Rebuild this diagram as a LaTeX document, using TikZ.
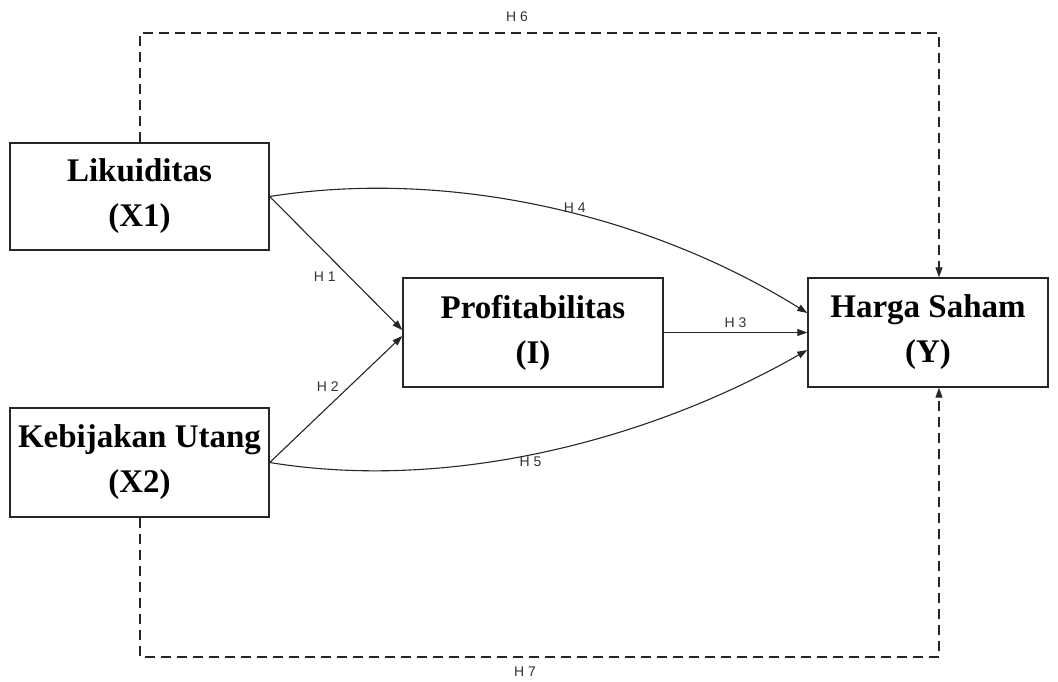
\documentclass[tikz,border=0pt]{standalone}
\usepackage{fontspec}
\setmainfont{Liberation Serif}
\newfontfamily\labfont{Liberation Sans}
\usetikzlibrary{arrows.meta}
\begin{document}
\begin{tikzpicture}[x=1pt,y=-1pt,
  box/.style={draw=black!85,line width=1.4pt,fill=white,inner sep=0pt,align=center,
    font=\fontsize{33}{45}\selectfont\bfseries},
  conn/.style={draw=black!85,line width=1.1pt,-{Triangle[length=10pt,width=7pt]}},
  dconn/.style={conn,dashed,dash pattern=on 10pt off 6pt},
  hlab/.style={font=\labfont\fontsize{14}{16}\selectfont,text=black!80,inner sep=1pt}]
\path[use as bounding box] (0,0) rectangle (1058,681);
\node[box,minimum width=259pt,minimum height=107pt] (x1) at (139.5,196.5) {Likuiditas\\(X1)};
\node[box,minimum width=259pt,minimum height=109pt] (x2) at (139.5,462.5) {Kebijakan Utang\\(X2)};
\node[box,minimum width=260pt,minimum height=109pt] (i) at (533,332.5) {Profitabilitas\\(I)};
\node[box,minimum width=240pt,minimum height=109pt] (y) at (928,332.5) {Harga Saham\\(Y)};
\coordinate (a1) at (140,33);
\coordinate (a2) at (939,33);
\coordinate (b1) at (140,657);
\coordinate (b2) at (939,657);
\draw[conn] (x1.east) -- (i.west |- 0,330) node[hlab,pos=0.6,left=12pt] {H 1};
\draw[conn] (x2.east) -- (i.west |- 0,336) node[hlab,pos=0.6,left=9pt] {H 2};
\draw[conn] (i.east) -- (y.west) node[hlab,midway,above=3pt] {H 3};
\draw[conn] (x1.east) .. controls (450,168) and (650,215) .. (y.west |- 0,313) node[hlab,pos=0.55,above=0pt] {H 4};
\draw[conn] (x2.east) .. controls (450,492) and (650,440) .. (y.west |- 0,350) node[hlab,pos=0.47,below=1pt] {H 5};
\draw[dconn] (x1.north -| a1) -- (a1) -- (a2) -- (y.north -| a2);
\draw[dconn] (x2.south -| b1) -- (b1) -- (b2) -- (y.south -| b2);
\node[hlab] (h6) at (517,17) {H 6};
\node[hlab] (h7) at (525,672) {H 7};
\end{tikzpicture}
\end{document}
